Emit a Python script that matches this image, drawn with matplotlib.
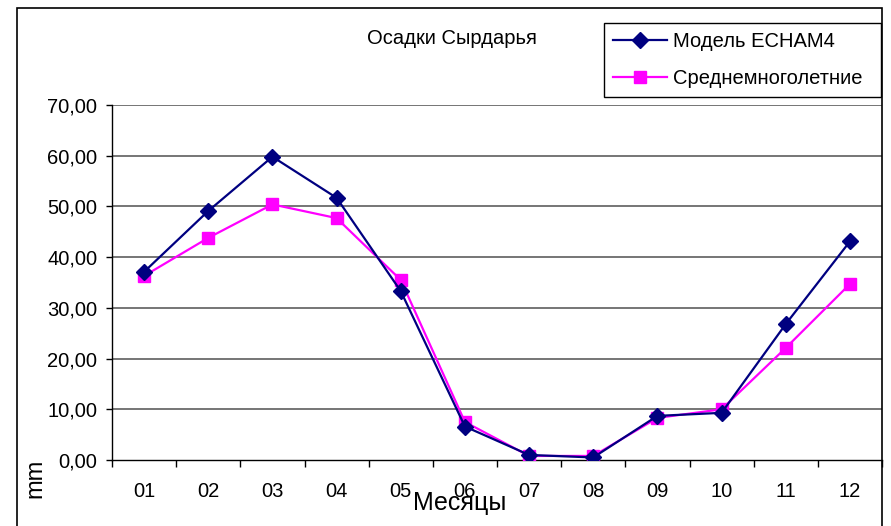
import matplotlib
matplotlib.use("Agg")
import matplotlib.pyplot as plt
from matplotlib.patches import Rectangle
from matplotlib.ticker import FuncFormatter, FixedLocator

months = ["01", "02", "03", "04", "05", "06", "07", "08", "09", "10", "11", "12"]
echam4 = [37.1, 49.1, 59.8, 51.7, 33.3, 6.6, 1.0, 0.5, 8.7, 9.3, 26.8, 43.1]
mean_long = [36.3, 43.8, 50.4, 47.7, 35.5, 7.5, 0.8, 0.8, 8.3, 10.0, 22.1, 34.7]
series_names = ["Модель ECHAM4", "Среднемноголетние"]
title = "Осадки Сырдарья"
yticks = [0, 10, 20, 30, 40, 50, 60, 70]

plt.rcParams['font.family'] = ['Liberation Sans', 'DejaVu Sans']

W, H = 891, 526
fig = plt.figure(figsize=(W / 100, H / 100), dpi=100)
ax = fig.add_axes([112 / W, 1 - 460 / H, 770 / W, 355 / H])

x = list(range(1, len(months) + 1))
l1, = ax.plot(x, echam4, color='#000080', lw=1.6, marker='D', markersize=8.5,
              markeredgecolor='#000080', markerfacecolor='#000080', zorder=4)
l2, = ax.plot(x, mean_long, color='#FF00FF', lw=1.6, marker='s', markersize=8,
              markeredgecolor='#FF00FF', markerfacecolor='#FF00FF', zorder=3)

ax.set_xlim(0.5, len(months) + 0.5)
ax.set_ylim(0, 70)
ax.set_yticks(yticks)
ax.yaxis.set_major_formatter(FuncFormatter(lambda v, p: f"{v:.2f}".replace('.', ',')))
ax.set_xticks(x)
ax.set_xticklabels(months)
ax.xaxis.set_minor_locator(FixedLocator([i + 0.5 for i in range(0, len(months) + 1)]))

ax.tick_params(axis='x', which='major', length=0, pad=16, labelsize=14.5)
ax.tick_params(axis='x', which='minor', length=5, width=1, direction='out', color='black')
ax.tick_params(axis='y', which='major', length=4.5, width=1, direction='out', pad=6, labelsize=14.5)

for v in yticks[1:]:
    ax.axhline(v, color='#6a6a6a', lw=1.3, zorder=1)

for s in ['top', 'right']:
    ax.spines[s].set_visible(False)
ax.spines['left'].set_linewidth(1)
ax.spines['bottom'].set_linewidth(1)

ax.set_xlabel("Месяцы", fontsize=18)
ax.xaxis.set_label_coords((460 - 112) / 770, (460 - 503) / 355)
ax.xaxis.label.set_va('center')
ax.set_ylabel("mm", fontsize=17)
ax.yaxis.set_label_coords((35 - 112) / 770, (460 - 478) / 355)
ax.yaxis.label.set_va('center')

fig.text(452 / W, 1 - 38 / H, title, ha='center', va='center', fontsize=14.5)

# chart area border
fig.patches.append(Rectangle((17 / W, -0.1), (882 - 17) / W, 1.1 - 8 / H,
                             transform=fig.transFigure, fill=False,
                             edgecolor='black', lw=1.2, zorder=0))

leg = fig.legend([l1, l2], series_names, loc='upper left',
                 bbox_to_anchor=(604 / W, 1 - 94 / H, (881 - 604) / W, (94 - 23) / H),
                 mode='expand', fontsize=14.5, frameon=True, fancybox=False,
                 edgecolor='black', framealpha=1, borderpad=0.45,
                 labelspacing=0.9, handlelength=2.7, handletextpad=0.3,
                 borderaxespad=0)
leg.get_frame().set_linewidth(1)

fig.savefig("out.png", dpi=100)
